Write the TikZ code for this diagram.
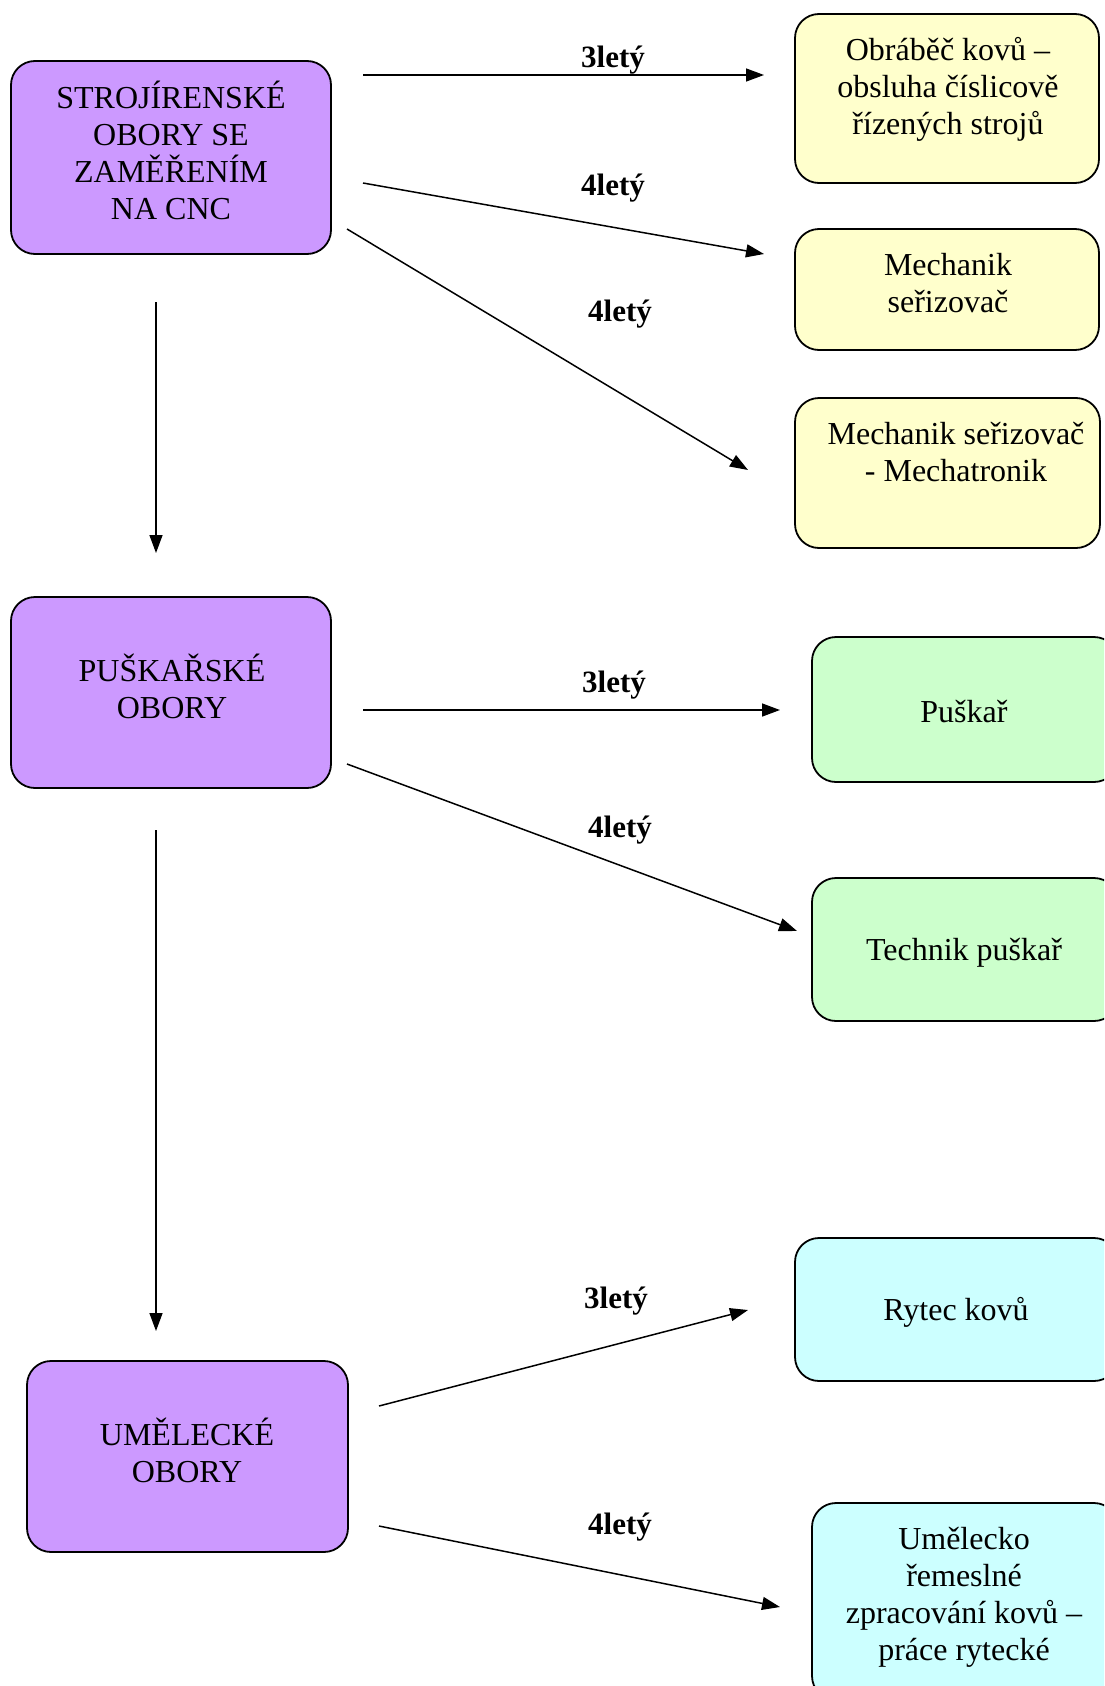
\documentclass[tikz,border=0pt]{standalone}
\usepackage{fontspec}
\setmainfont{Liberation Serif}
\usetikzlibrary{arrows.meta}
\definecolor{purp}{RGB}{204,153,255}
\definecolor{yel}{RGB}{255,255,204}
\definecolor{grn}{RGB}{204,255,204}
\definecolor{cyn}{RGB}{204,255,255}
\begin{document}
\begin{tikzpicture}[x=1pt,y=-1pt,
  box/.style={draw=black, line width=1.8pt, rounded corners=24pt, inner sep=0pt},
  txt/.style={font=\fontsize{32}{37}\selectfont, align=center, inner sep=0pt},
  lab/.style={font=\fontsize{31}{36}\selectfont\bfseries, inner sep=0pt},
  arr/.style={line width=1.5pt, -{Triangle[length=18pt,width=13pt]}}]
\useasboundingbox (0,0) rectangle (1104,1686);
\clip (0,0) rectangle (1104,1686);
\fill[white] (0,0) rectangle (1104,1686);

% boxes
\node[box, fill=purp, minimum width=320pt, minimum height=193pt] (s1) at (171,157.5) {};
\node[box, fill=purp, minimum width=320pt, minimum height=191pt] (s2) at (171,692.5) {};
\node[box, fill=purp, minimum width=321pt, minimum height=191pt] (s3) at (187.5,1456.5) {};
\node[box, fill=yel, minimum width=304pt, minimum height=169pt] (y1) at (947,98.5) {};
\node[box, fill=yel, minimum width=304pt, minimum height=121pt] (y2) at (947,289.5) {};
\node[box, fill=yel, minimum width=305pt, minimum height=150pt] (y3) at (947.5,473) {};
\node[box, fill=grn, minimum width=306pt, minimum height=145pt] (g1) at (965,709.5) {};
\node[box, fill=grn, minimum width=306pt, minimum height=143pt] (g2) at (965,949.5) {};
\node[box, fill=cyn, minimum width=323pt, minimum height=143pt] (c1) at (956.5,1309.5) {};
\node[box, fill=cyn, minimum width=306pt, minimum height=197pt] (c2) at (965,1601.5) {};

% texts
\node[txt] (ts1) at (171,150) {STROJÍRENSKÉ\\OBORY SE\\ZAMĚŘENÍM\\NA CNC};
\node[txt] (ts2) at (172,686) {PUŠKAŘSKÉ\\OBORY};
\node[txt] (ts3) at (187,1450) {UMĚLECKÉ\\OBORY};
\node[txt] (ty1) at (948,89) {Obráběč kovů –\\obsluha číslicově\\řízených strojů};
\node[txt] (ty2) at (948,283) {Mechanik\\seřizovač};
\node[txt] (ty3) at (956,452) {Mechanik seřizovač\\- Mechatronik};
\node[txt] (tg1) at (964,712) {Puškař};
\node[txt] (tg2) at (964,953) {Technik puškař};
\node[txt] (tc1) at (956,1312) {Rytec kovů};
\node[txt] (tc2) at (964,1597) {Umělecko\\řemeslné\\zpracování kovů –\\práce rytecké};

% arrow endpoints
\coordinate (a1s) at (363,75);   \coordinate (a1e) at (764,75);
\coordinate (a2s) at (363,183);  \coordinate (a2e) at (764,254);
\coordinate (a3s) at (347,229);  \coordinate (a3e) at (748,470);
\coordinate (d1s) at (156,302);  \coordinate (d1e) at (156,553);
\coordinate (a4s) at (363,710);  \coordinate (a4e) at (780,710);
\coordinate (a5s) at (347,764);  \coordinate (a5e) at (797,931);
\coordinate (d2s) at (156,830);  \coordinate (d2e) at (156,1331);
\coordinate (a6s) at (379,1406); \coordinate (a6e) at (748,1310);
\coordinate (a7s) at (379,1526); \coordinate (a7e) at (780,1607);

\draw[arr] (a1s) -- (a1e);
\draw[arr] (a2s) -- (a2e);
\draw[arr] (a3s) -- (a3e);
\draw[arr] (d1s) -- (d1e);
\draw[arr] (a4s) -- (a4e);
\draw[arr] (a5s) -- (a5e);
\draw[arr] (d2s) -- (d2e);
\draw[arr] (a6s) -- (a6e);
\draw[arr] (a7s) -- (a7e);

% labels
\node[lab] (l1) at (613,60) {3letý};
\node[lab] (l2) at (613,188) {4letý};
\node[lab] (l3) at (620,314) {4letý};
\node[lab] (l4) at (614,685) {3letý};
\node[lab] (l5) at (620,830) {4letý};
\node[lab] (l6) at (616,1301) {3letý};
\node[lab] (l7) at (620,1527) {4letý};
\end{tikzpicture}
\end{document}
